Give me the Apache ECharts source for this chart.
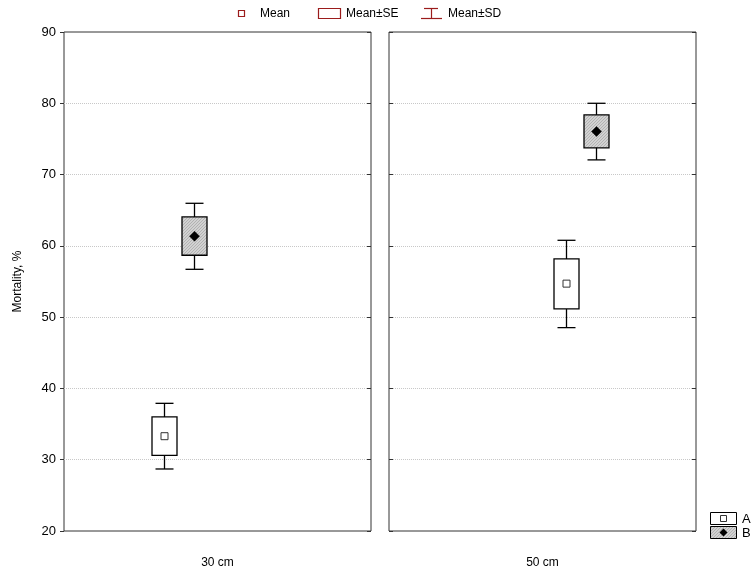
<!DOCTYPE html>
<html>
<head>
<meta charset="utf-8">
<script src="https://cdn.jsdelivr.net/npm/echarts@6/dist/echarts.min.js"></script>
<style>
html,body{margin:0;padding:0;background:#fff;}
#c{width:755px;height:572px;}
</style>
</head>
<body>
<div id="c"></div>
<script>
// ---- data ----
const categories = ['30 cm', '50 cm'];
const groups = ['A', 'B'];
const yTicks = [20, 30, 40, 50, 60, 70, 80, 90];
// per category: [30 cm, 50 cm]
const meanA   = [33.3, 54.7];
const meanB   = [61.35, 76.05];
const seLowA  = [30.6, 51.15];
const seHighA = [36.0, 58.17];
const seLowB  = [58.68, 73.75];
const seHighB = [64.06, 78.38];
const sdLowA  = [28.7, 48.53];
const sdHighA = [37.91, 60.78];
const sdLowB  = [56.71, 72.06];
const sdHighB = [65.97, 80.0];

// ---- layout / style ----
const FONT = 'Liberation Sans, Arial, sans-serif';
const offsets = [[-0.175, -0.075], [0.075, 0.175]]; // fraction of band, per panel per group
const boxW = 25, capW = 18;

function makePattern() {
  const cv = document.createElement('canvas');
  cv.width = 3; cv.height = 3;
  const ctx = cv.getContext('2d');
  ctx.fillStyle = '#d2d2d2';
  ctx.fillRect(0, 0, 3, 3);
  ctx.fillStyle = '#b2b2b2';
  for (let i = 0; i < 3; i++) ctx.fillRect(i, 2 - i, 1, 1);
  return cv;
}
const hatch = { image: makePattern(), repeat: 'repeat' };

const chart = echarts.init(document.getElementById('c'), null, { renderer: 'canvas' });

const grids = [
  { left: 64, top: 32, width: 307, height: 499, show: true, borderColor: '#333', borderWidth: 1, backgroundColor: '#fff' },
  { left: 389, top: 32, width: 307, height: 499, show: true, borderColor: '#333', borderWidth: 1, backgroundColor: '#fff' }
];

function xAxisFor(i) {
  return {
    type: 'category', gridIndex: i, data: [categories[i]],
    axisLine: { show: false }, axisTick: { show: false },
    axisLabel: { margin: 26, fontSize: 12, color: '#000', fontFamily: FONT }
  };
}
function yAxisFor(i) {
  return {
    type: 'value', gridIndex: i, min: 20, max: 90, interval: 10,
    axisLine: { show: false },
    axisTick: { show: true, inside: i === 1, length: 4, lineStyle: { color: '#333' } },
    axisLabel: { show: i === 0, fontSize: 13, color: '#000', fontFamily: FONT, margin: 8,
      formatter: v => (yTicks.indexOf(v) >= 0 ? String(v) : '') },
    splitLine: { show: true, showMinLine: false, showMaxLine: false,
      lineStyle: { color: '#c8c8c8', type: [1, 1], width: 1 } },
    name: i === 0 ? 'Mortality, %' : '', nameLocation: 'middle', nameGap: 40, nameRotate: 90,
    nameTextStyle: { fontSize: 12, color: '#000', fontFamily: FONT }
  };
}
function yRightFor(i) {
  return {
    type: 'value', gridIndex: i, min: 20, max: 90, interval: 10, position: 'right',
    axisLine: { show: false }, axisLabel: { show: false }, splitLine: { show: false },
    axisTick: { show: true, inside: true, length: 4, lineStyle: { color: '#333' } }
  };
}

function boxSeries(panel, gi) {
  const isB = gi === 1;
  const mean = isB ? meanB : meanA;
  const seL = isB ? seLowB : seLowA, seH = isB ? seHighB : seHighA;
  const sdL = isB ? sdLowB : sdLowA, sdH = isB ? sdHighB : sdHighA;
  const off = offsets[panel][gi];
  return {
    type: 'custom', name: groups[gi], xAxisIndex: panel, yAxisIndex: panel * 2, z: 5,
    data: [[0, mean[panel], seL[panel], seH[panel], sdL[panel], sdH[panel]]],
    renderItem: function (params, api) {
      const bw = api.size([1, 0])[0];
      const c = api.coord([api.value(0), api.value(1)]);
      const x = Math.round(c[0] + off * bw) + 0.5;
      const ym = api.coord([0, api.value(1)])[1];
      const y1 = api.coord([0, api.value(2)])[1];
      const y2 = api.coord([0, api.value(3)])[1];
      const y3 = api.coord([0, api.value(4)])[1];
      const y4 = api.coord([0, api.value(5)])[1];
      const ls = { stroke: '#000', lineWidth: 1.3 };
      const children = [
        { type: 'line', shape: { x1: x, y1: y4, x2: x, y2: y3 }, style: ls },
        { type: 'line', shape: { x1: x - capW / 2, y1: y4, x2: x + capW / 2, y2: y4 }, style: ls },
        { type: 'line', shape: { x1: x - capW / 2, y1: y3, x2: x + capW / 2, y2: y3 }, style: ls },
        { type: 'rect', shape: { x: x - boxW / 2, y: y2, width: boxW, height: y1 - y2 },
          style: { fill: isB ? hatch : '#fff', stroke: '#000', lineWidth: 1.3 } }
      ];
      if (isB) {
        children.push({ type: 'polygon', shape: { points: [[x, ym - 5], [x + 5, ym], [x, ym + 5], [x - 5, ym]] },
          style: { fill: '#000', stroke: '#000', lineWidth: 0.5 } });
      } else {
        children.push({ type: 'rect', shape: { x: x - 3.5, y: ym - 3.5, width: 7, height: 7 },
          style: { fill: '#fff', stroke: '#333', lineWidth: 1 } });
      }
      return { type: 'group', children: children };
    }
  };
}

const legendColor = '#9b1c1c';
const graphics = [
  // top legend
  { type: 'rect', shape: { x: 238.5, y: 10.5, width: 6, height: 6 }, style: { fill: '#fff', stroke: legendColor, lineWidth: 1.2 } },
  { type: 'text', x: 260, y: 14, style: { text: 'Mean', font: '12px ' + FONT, fill: '#000', textVerticalAlign: 'middle' } },
  { type: 'rect', shape: { x: 318.5, y: 8.5, width: 22, height: 10 }, style: { fill: '#fff', stroke: legendColor, lineWidth: 1.2 } },
  { type: 'text', x: 346, y: 14, style: { text: 'Mean±SE', font: '12px ' + FONT, fill: '#000', textVerticalAlign: 'middle' } },
  { type: 'line', shape: { x1: 424, y1: 8.5, x2: 438, y2: 8.5 }, style: { stroke: legendColor, lineWidth: 1.2 } },
  { type: 'line', shape: { x1: 431.5, y1: 8.5, x2: 431.5, y2: 18.5 }, style: { stroke: legendColor, lineWidth: 1.2 } },
  { type: 'line', shape: { x1: 421, y1: 18.5, x2: 442, y2: 18.5 }, style: { stroke: legendColor, lineWidth: 1.2 } },
  { type: 'text', x: 448, y: 14, style: { text: 'Mean±SD', font: '12px ' + FONT, fill: '#000', textVerticalAlign: 'middle' } },
  // bottom-right legend
  { type: 'rect', shape: { x: 710.5, y: 512.5, width: 26, height: 12 }, style: { fill: '#fff', stroke: '#000', lineWidth: 1 } },
  { type: 'rect', shape: { x: 720.5, y: 515.5, width: 6, height: 6 }, style: { fill: '#fff', stroke: '#333', lineWidth: 1 } },
  { type: 'text', x: 742, y: 519, style: { text: groups[0], font: '13px ' + FONT, fill: '#000', textVerticalAlign: 'middle' } },
  { type: 'rect', shape: { x: 710.5, y: 526.5, width: 26, height: 12 }, style: { fill: hatch, stroke: '#000', lineWidth: 1 } },
  { type: 'polygon', shape: { points: [[723.5, 528.5], [727.5, 532.5], [723.5, 536.5], [719.5, 532.5]] }, style: { fill: '#000' } },
  { type: 'text', x: 742, y: 533, style: { text: groups[1], font: '13px ' + FONT, fill: '#000', textVerticalAlign: 'middle' } }
];

chart.setOption({
  animation: false,
  backgroundColor: '#fff',
  grid: grids,
  xAxis: [xAxisFor(0), xAxisFor(1)],
  yAxis: [yAxisFor(0), yRightFor(0), yAxisFor(1), yRightFor(1)],
  series: [boxSeries(0, 0), boxSeries(0, 1), boxSeries(1, 0), boxSeries(1, 1)],
  graphic: graphics
});
</script>
</body>
</html>
